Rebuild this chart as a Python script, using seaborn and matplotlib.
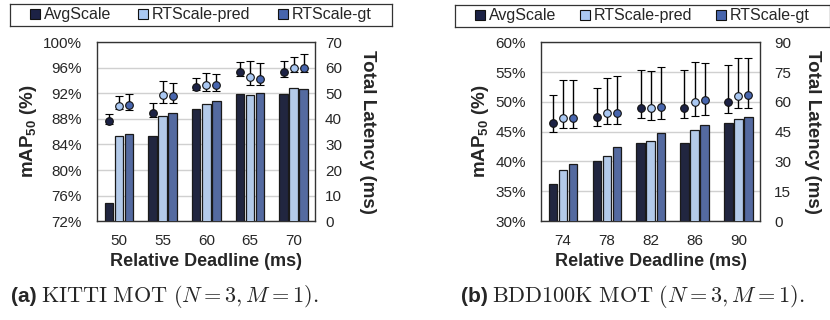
import numpy as np
import pandas as pd
import matplotlib
matplotlib.use("Agg")
import matplotlib.pyplot as plt
from matplotlib.lines import Line2D
import seaborn as sns

methods = ["AvgScale", "RTScale-pred", "RTScale-gt"]
colors = ["#1c2245", "#aac8f2", "#4765ad"]

# KITTI MOT
kitti_deadlines = ["50", "55", "60", "65", "70"]
kitti_map = {
    "AvgScale": [74.9, 85.3, 89.6, 91.9, 91.9],
    "RTScale-pred": [85.3, 88.5, 90.4, 91.8, 92.8],
    "RTScale-gt": [85.7, 89.0, 90.8, 92.1, 92.7],
}
kitti_lat = {
    "AvgScale": [39.2, 42.2, 52.6, 58.2, 58.2],
    "RTScale-pred": [45.0, 49.5, 53.3, 56.5, 60.0],
    "RTScale-gt": [45.3, 49.1, 53.1, 55.6, 60.0],
}
kitti_lat_min = {
    "AvgScale": [38.0, 40.9, 51.3, 56.8, 56.5],
    "RTScale-pred": [43.7, 46.1, 50.9, 53.1, 58.5],
    "RTScale-gt": [43.5, 46.1, 50.9, 53.1, 58.5],
}
kitti_lat_max = {
    "AvgScale": [41.8, 46.1, 55.9, 62.2, 62.8],
    "RTScale-pred": [49.1, 54.7, 57.8, 62.8, 64.4],
    "RTScale-gt": [49.7, 53.9, 57.6, 61.8, 65.3],
}

# BDD100K MOT
bdd_deadlines = ["74", "78", "82", "86", "90"]
bdd_map = {
    "AvgScale": [36.3, 40.1, 43.1, 43.1, 46.5],
    "RTScale-pred": [38.5, 40.9, 43.4, 45.2, 47.1],
    "RTScale-gt": [39.6, 42.5, 44.8, 46.2, 47.4],
}
bdd_lat = {
    "AvgScale": [49.4, 52.5, 56.7, 56.7, 60.1],
    "RTScale-pred": [51.9, 54.2, 56.7, 60.1, 63.1],
    "RTScale-gt": [51.9, 54.2, 57.4, 61.1, 63.4],
}
bdd_lat_min = {
    "AvgScale": [44.8, 48.0, 51.7, 51.7, 54.4],
    "RTScale-pred": [46.7, 49.0, 51.0, 53.0, 56.7],
    "RTScale-gt": [46.7, 49.0, 51.4, 53.4, 56.7],
}
bdd_lat_max = {
    "AvgScale": [63.4, 67.2, 75.8, 75.8, 78.8],
    "RTScale-pred": [70.8, 71.9, 75.5, 80.0, 82.3],
    "RTScale-gt": [70.8, 72.8, 77.5, 79.5, 82.3],
}

sns.set_style("white")
plt.rcParams["font.family"] = ["Liberation Sans", "DejaVu Sans"]
plt.rcParams["mathtext.fontset"] = "custom"
plt.rcParams["mathtext.rm"] = "Liberation Sans"
plt.rcParams["mathtext.bf"] = "Liberation Sans:bold"

fig = plt.figure(figsize=(8.3, 3.2), dpi=100)

BW = 0.69
GAP = 0.15


def panel(rect, deadlines, mapv, lat, lmin, lmax, ylim, yticks, y2lim, y2ticks,
          cap_tag, cap_text, cap_x, leg_rect, lpad, rpad, colsp, r_labelpad):
    ax = fig.add_axes(rect)
    rows = []
    for m in methods:
        for d, v in zip(deadlines, mapv[m]):
            rows.append({"deadline": d, "method": m, "map": v})
    df = pd.DataFrame(rows)
    sns.barplot(data=df, x="deadline", y="map", hue="method", hue_order=methods,
                palette=colors, width=BW, gap=GAP, edgecolor="#1a1a1a",
                linewidth=0.9, ax=ax, legend=False, zorder=3)
    ax.set_ylim(*ylim)
    ax.set_yticks(yticks)
    ax.set_yticklabels([f"{t}%" for t in yticks])
    ax.yaxis.grid(True, color="#d0d0d0", linewidth=1.0, zorder=0)
    ax.set_axisbelow(True)
    ax.set_xlabel("Relative Deadline (ms)", fontsize=13, fontweight="bold", labelpad=4)
    ax.set_ylabel(r"mAP$_\mathbf{50}$ (%)", fontsize=13.5, fontweight="bold", labelpad=3)
    ax.tick_params(axis="x", labelsize=11, length=0, pad=9)
    ax.tick_params(axis="y", labelsize=11, length=0, pad=lpad)
    for s in ax.spines.values():
        s.set_color("#333333")
        s.set_linewidth(1.0)

    ax2 = ax.twinx()
    step = BW / 3
    for i, m in enumerate(methods):
        xs = np.arange(len(deadlines)) + (i - 1) * step
        y = np.array(lat[m])
        err = [y - np.array(lmin[m]), np.array(lmax[m]) - y]
        ax2.errorbar(xs, y, yerr=err, fmt="o", color=colors[i], ecolor="black",
                     elinewidth=1.0, capsize=3.2, capthick=1.0, markersize=5.5,
                     markeredgecolor="#111111", markeredgewidth=0.8, zorder=4)
    ax2.set_ylim(*y2lim)
    ax2.set_yticks(y2ticks)
    ax2.tick_params(axis="y", labelsize=11, length=0, pad=rpad)
    ax2.set_ylabel("Total Latency (ms)", fontsize=13.5, fontweight="bold", rotation=-90,
                   labelpad=r_labelpad)
    ax2.yaxis.label.set_verticalalignment("bottom")
    for s in ax2.spines.values():
        s.set_visible(False)
    ax.set_xlim(-0.5, len(deadlines) - 0.5)

    # legend box on top
    lax = fig.add_axes(leg_rect)
    lax.set_xticks([])
    lax.set_yticks([])
    for s in lax.spines.values():
        s.set_color("#333333")
        s.set_linewidth(0.9)
    handles = [Line2D([], [], marker="s", linestyle="", markersize=6.5, markerfacecolor=c,
                      markeredgecolor="#111111", markeredgewidth=0.8) for c in colors]
    lax.legend(handles, methods, loc="center", ncol=3, frameon=False, fontsize=11.5,
               handlelength=0.6, handletextpad=0.25, columnspacing=colsp, borderpad=0.1)

    fig.text(cap_x, 0.072, cap_tag, ha="right", va="center", fontsize=15, fontweight="bold")
    fig.text(cap_x + 0.005, 0.072, cap_text, ha="left", va="center", fontsize=16,
             math_fontfamily="cm")


panel([0.117, 0.309, 0.263, 0.559], kitti_deadlines, kitti_map, kitti_lat, kitti_lat_min,
      kitti_lat_max, (72, 100), list(range(72, 101, 4)), (0, 70), list(range(0, 71, 10)),
      "(a)", r"$\mathrm{KITTI\ MOT}\ (N=3, M=1).$", 0.044,
      [0.012, 0.919, 0.46, 0.069], 11, 7, 1.7, 12)
panel([0.652, 0.309, 0.264, 0.559], bdd_deadlines, bdd_map, bdd_lat, bdd_lat_min,
      bdd_lat_max, (30, 60), list(range(30, 61, 5)), (0, 90), list(range(0, 91, 15)),
      "(b)", r"$\mathrm{BDD100K\ MOT}\ (N=3, M=1).$", 0.588,
      [0.548, 0.916, 0.452, 0.069], 11, 10, 1.5, 9)

fig.savefig("out.png", dpi=100)
